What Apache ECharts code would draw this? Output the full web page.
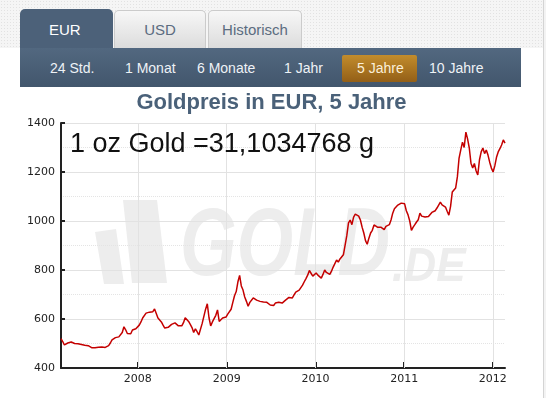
<!DOCTYPE html>
<html>
<head>
<meta charset="utf-8">
<script src="https://cdn.jsdelivr.net/npm/echarts@6/dist/echarts.min.js"></script>
<style>
  body { margin: 0; width: 546px; height: 398px; background: #fff; position: relative; overflow: hidden; font-family: "Liberation Sans", Arial, sans-serif; }
  .topbg { position: absolute; left: 0; top: 0; width: 546px; height: 48px;
    background-color: #f5f5f5;
    background-image: radial-gradient(#e2e2e2 0.8px, transparent 0.9px);
    background-size: 3px 3px; }
  .rightedge { position: absolute; left: 543px; top: 0; width: 3px; height: 398px; border-left: 1px solid #d4d4d4; background: #f3f3f3; box-sizing: border-box; }
  .tab { position: absolute; top: 10px; height: 38px; box-sizing: border-box; font-size: 15px; line-height: 38px; text-align: center;
    border-radius: 5px 5px 0 0; }
  .tab.off { background: linear-gradient(#f7f7f7, #dcdcdc); border: 1px solid #cbcbcb; border-bottom: none; color: #5b6c80; }
  .tab.on { top: 9px; height: 39px; line-height: 41px; background: #4c6179; color: #fff; text-align: left; padding-left: 29px; }
  .bar { position: absolute; left: 20px; top: 48px; width: 501px; height: 39px; background: linear-gradient(#526880, #42566c); }
  .item { position: absolute; top: 60px; height: 16px; line-height: 16px; font-size: 14px; color: #eef2f6; white-space: nowrap; }
  .btn { position: absolute; left: 342px; top: 55px; width: 75px; height: 27px; border-radius: 2px; background: linear-gradient(#c28c2c, #935f17); }
  #chart { position: absolute; left: 0; top: 88px; width: 543px; height: 310px; }
</style>
</head>
<body>
<div class="topbg"></div>
<div class="rightedge"></div>
<div class="tab on" style="left:20px;width:93px;">EUR</div>
<div class="tab off" style="left:114px;width:92px;">USD</div>
<div class="tab off" style="left:208px;width:94px;">Historisch</div>
<div class="bar"></div>
<div class="btn"></div>
<div class="item" style="left:50px;">24 Std.</div>
<div class="item" style="left:125px;">1 Monat</div>
<div class="item" style="left:197px;">6 Monate</div>
<div class="item" style="left:284px;">1 Jahr</div>
<div class="item" style="left:357px;color:#fbefd8;">5 Jahre</div>
<div class="item" style="left:429px;">10 Jahre</div>
<div id="chart"></div>
<script>
// weekly closing prices (EUR per oz), first week starting 19.02.2007
const startDate = [2007, 1, 19];
const weeklyPrices = [
  520, 508, 494, 498, 502, 497, 506, 503, 500, 505,
  499, 494, 496, 490, 493, 488, 491, 486, 483, 478,
  483, 487, 485, 490, 486, 489, 484, 486, 491, 502,
  515, 518, 524, 521, 527, 530, 545, 568, 556, 541,
  546, 540, 555, 551, 560, 566, 575, 588, 604, 612,
  624, 618, 628, 633, 630, 641, 645, 604, 598, 588,
  575, 563, 570, 566, 571, 578, 575, 584, 580, 572,
  566, 572, 585, 605, 598, 590, 578, 565, 545, 560,
  548, 535, 540, 582, 575, 640, 662, 605, 572, 588,
  583, 615, 637, 590, 598, 604, 612, 608, 620, 628,
  640, 668, 695, 712, 752, 778, 735, 718, 690, 672,
  652, 668, 675, 686, 682, 677, 680, 672, 668, 669,
  675, 668, 662, 657, 660, 655, 665, 662, 668, 669,
  665, 672, 677, 684, 688, 690, 686, 698, 710, 705,
  718, 722, 738, 752, 765, 779, 798, 792, 775, 782,
  788, 779, 775, 767, 782, 800, 790, 788, 782, 795,
  812, 820, 841, 832, 845, 849, 862, 869, 940, 992,
  1004, 985, 1016, 1028, 1036, 1020, 1004, 975, 951, 920,
  905, 930, 951, 962, 984, 978, 975, 968, 975, 971,
  965, 978, 971, 985, 1004, 1032, 1050, 1048, 1065, 1058,
  1073, 1068, 1070, 1042, 1025, 1000, 962, 975, 985, 996,
  1005, 1032, 1020, 1012, 1016, 1008, 1018, 1024, 1035, 1030,
  1042, 1053, 1060, 1077, 1066, 1070, 1057, 1040, 1024, 1060,
  1118, 1125, 1135, 1180, 1257, 1290, 1322, 1300, 1363, 1335,
  1298, 1236, 1216, 1235, 1205, 1188, 1250, 1282, 1298, 1275,
  1290, 1269, 1240, 1216, 1200, 1225, 1260, 1282, 1295, 1310,
  1331, 1318
];
const yearLabels = ['2008', '2009', '2010', '2011', '2012'];
const axisStart = [2007, 1, 19];
const axisEnd = [2012, 1, 20];

const chart = echarts.init(document.getElementById('chart'));

const data = weeklyPrices.map((v, i) => {
  const d = new Date(startDate[0], startDate[1], startDate[2] + i * 7);
  return [d.getTime(), v];
});
const yearTicks = yearLabels.map(y => new Date(+y, 0, 1).getTime());

const axisFont = { fontFamily: 'DejaVu Sans', fontSize: 11, color: '#222' };

chart.setOption({
  animation: false,
  title: {
    text: 'Goldpreis in EUR, 5 Jahre',
    left: 'center',
    top: 4,
    padding: 0,
    textStyle: { fontFamily: 'Liberation Sans', fontSize: 22, fontWeight: 'bold', color: '#4a6179' }
  },
  grid: { left: 61, right: 38, top: 35, bottom: 30, containLabel: false },
  xAxis: {
    type: 'value',
    scale: true,
    min: new Date(axisStart[0], axisStart[1], axisStart[2]).getTime(),
    max: new Date(axisEnd[0], axisEnd[1], axisEnd[2]).getTime(),
    axisLine: { lineStyle: { color: '#222', width: 2 } },
    axisTick: { customValues: yearTicks, inside: true, length: 6, lineStyle: { color: '#222', width: 2 } },
    axisLabel: Object.assign({ customValues: yearTicks, margin: 6, formatter: v => String(new Date(v).getFullYear()) }, axisFont),
    splitLine: { show: false }
  },
  yAxis: {
    type: 'value',
    min: 400,
    max: 1400,
    interval: 200,
    axisLine: { show: true, lineStyle: { color: '#222', width: 2 } },
    axisTick: { show: true, inside: true, length: 4, lineStyle: { color: '#222', width: 2 } },
    axisLabel: Object.assign({ margin: 6, formatter: v => String(v) }, axisFont),
    splitLine: { show: true, lineStyle: { color: '#e2e2e2', width: 1 } },
    minorTick: { show: false, splitNumber: 2 },
    minorSplitLine: { show: true, lineStyle: { color: '#e4e4e4', width: 1, type: 'dotted' } }
  },
  graphic: [
    { type: 'polygon', z: -5, silent: true, shape: { points: [[95, 144], [116, 141], [124, 196], [104, 196]] }, style: { fill: '#ededed' } },
    { type: 'polygon', z: -5, silent: true, shape: { points: [[123, 112], [157, 112], [167, 195], [132, 195]] }, style: { fill: '#ededed' } },
    { type: 'text', z: -5, silent: true, x: 180, y: 112, scaleX: 0.75,
      style: { text: 'GOLD', fill: '#ededed', font: 'italic bold 97px "Liberation Sans"', verticalAlign: 'top' } },
    { type: 'text', z: -5, silent: true, x: 392, y: 156, scaleX: 0.92,
      style: { text: '.DE', fill: '#ededed', font: 'italic bold 48px "Liberation Sans"', verticalAlign: 'top' } },
    { type: 'text', z: 10, silent: true, x: 70, y: 43,
      style: { text: '1 oz Gold =31,1034768 g', fill: '#111', font: '27px "Liberation Sans"', verticalAlign: 'top' } }
  ],
  series: [{
    type: 'line',
    data: data,
    showSymbol: false,
    z: 5,
    lineStyle: { color: '#c40000', width: 1.5 },
    markLine: {
      silent: true,
      symbol: 'none',
      label: { show: false },
      z: 1,
      lineStyle: { color: '#e2e2e2', width: 1, type: 'solid' },
      data: yearTicks.map(t => ({ xAxis: t }))
    }
  }]
});
</script>
</body>
</html>
